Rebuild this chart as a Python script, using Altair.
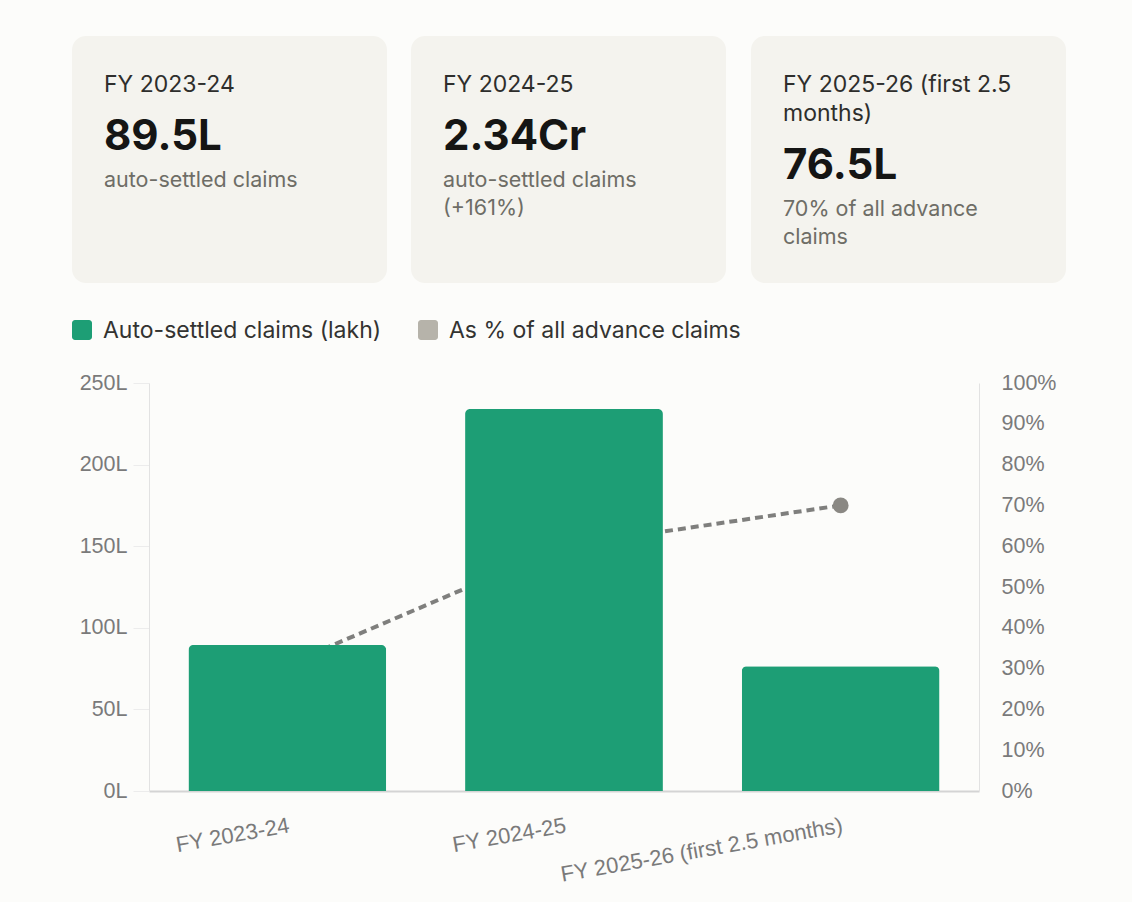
import altair as alt
import pandas as pd

# ---- data -------------------------------------------------------------
periods = ["FY 2023-24", "FY 2024-25", "FY 2025-26 (first 2.5 months)"]
claims_lakh = [89.5, 234, 76.5]          # auto-settled claims, lakh
share_pct = [31, 60, 70]                 # as % of all advance claims

card_titles = ["FY 2023-24", "FY 2024-25", "FY 2025-26 (first 2.5\nmonths)"]
card_values = ["89.5L", "2.34Cr", "76.5L"]
card_notes = ["auto-settled claims", "auto-settled claims\n(+161%)", "70% of all advance\nclaims"]

legend_labels = ["Auto-settled claims (lakh)", "As % of all advance claims"]

# ---- style ------------------------------------------------------------
GREEN = "#1d9e75"
LINE_GREY = "#7f7f7d"
POINT_GREY = "#8a8883"
SWATCH_GREY = "#b6b3aa"
CARD_BG = "#f4f3ee"
PAGE_BG = "#fcfcfa"
AXIS_GREY = "#7a7a7a"
GRID = "#ececec"
UI_FONT = "Inter"
AXIS_FONT = "Liberation Sans"

W, H = 830, 408          # plot area
OX, OY = 149, 383        # page position of the plot origin

df = pd.DataFrame({"period": periods, "claims": claims_lakh, "share": share_pct})
one_row = pd.DataFrame({"k": [0]})

x_enc = alt.X(
    "period:N",
    sort=periods,
    scale=alt.Scale(paddingInner=0.285, paddingOuter=0.1425),
    axis=alt.Axis(
        title=None, labelAngle=350, labelAlign="right", labelBaseline="top",
        labelPadding=24, ticks=False, domainColor="#d4d4d4", domainWidth=2,
        labelFont=AXIS_FONT, labelFontSize=22, labelColor=AXIS_GREY, labelLimit=500,
    ),
)

bars = alt.Chart(df).mark_bar(
    color=GREEN, cornerRadiusTopLeft=5, cornerRadiusTopRight=5
).encode(
    x=x_enc,
    y=alt.Y(
        "claims:Q",
        scale=alt.Scale(domain=[0, 250], nice=False),
        axis=alt.Axis(
            title=None, orient="left", values=[0, 50, 100, 150, 200, 250],
            labelExpr="datum.value + 'L'", tickSize=16, tickColor=GRID,
            gridColor=GRID, domainColor="#e2e2e2", labelPadding=6,
            labelFont=AXIS_FONT, labelFontSize=21.5, labelColor=AXIS_GREY,
        ),
    ),
)

pct_y = alt.Y(
    "share:Q",
    scale=alt.Scale(domain=[0, 100], nice=False),
    axis=alt.Axis(
        title=None, orient="right", values=list(range(0, 101, 10)),
        labelExpr="datum.value + '%'", ticks=False, grid=False,
        domainColor="#e2e2e2", labelPadding=22,
        labelFont=AXIS_FONT, labelFontSize=21.5, labelColor=AXIS_GREY,
    ),
)

share_line = alt.Chart(df).mark_line(
    color=LINE_GREY, strokeWidth=4, strokeDash=[8, 5]
).encode(x=x_enc, y=pct_y)

share_points = alt.Chart(df).mark_circle(
    color=POINT_GREY, size=250, opacity=1
).encode(x=x_enc, y=pct_y)

pct_layer = alt.layer(share_line, share_points)


# ---- summary cards and legend, placed in page pixels -------------------
def box(x0, y0, x1, y1, color, radius):
    return alt.Chart(one_row).mark_rect(color=color, cornerRadius=radius).encode(
        x=alt.value(x0 - OX), x2=alt.value(x1 - OX),
        y=alt.value(y0 - OY), y2=alt.value(y1 - OY),
    )


def words(x, y, text, size, color, weight="normal", line_height=None, baseline="alphabetic"):
    kw = dict(align="left", baseline=baseline, font=UI_FONT, fontSize=size,
              color=color, fontWeight=weight, lineBreak="\n")
    if line_height:
        kw["lineHeight"] = line_height
    return alt.Chart(one_row).mark_text(**kw).encode(
        x=alt.value(x - OX), y=alt.value(y - OY), text=alt.value(text)
    )


decor = []
card_left = [72, 411, 751]
for i, left in enumerate(card_left):
    decor.append(box(left, 36, left + 315, 283, CARD_BG, 14))
    tx = left + 32
    title_lines = card_titles[i].count("\n") + 1
    value_y = 150 + (title_lines - 1) * 29
    decor.append(words(tx, 92, card_titles[i], 23, "#2e2e2c", line_height=29))
    decor.append(words(tx, value_y, card_values[i], 42, "#151514", weight="bold"))
    decor.append(words(tx, value_y + 37, card_notes[i], 21.5, "#6e6d66", line_height=28))

legend_items = [(72, GREEN, legend_labels[0]), (418, SWATCH_GREY, legend_labels[1])]
for sx, color, text in legend_items:
    decor.append(box(sx, 320, sx + 20, 340, color, 3))
    decor.append(words(sx + 31, 331, text, 23, "#333331", baseline="middle"))

chart = alt.layer(pct_layer, bars, *decor).resolve_scale(
    y="independent"
).properties(
    width=W, height=H,
    padding={"left": OX, "top": OY, "right": 1132 - OX - W, "bottom": 902 - OY - H},
    autosize=alt.AutoSizeParams(type="none"),
    background=PAGE_BG,
).configure_view(strokeWidth=0)

chart.save("out.html", embed_options={"renderer": "svg", "actions": False})
